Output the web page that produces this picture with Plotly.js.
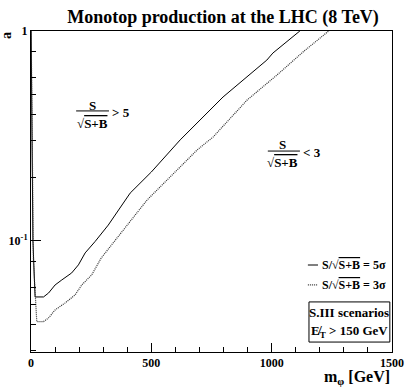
<!DOCTYPE html>
<html>
<head>
<meta charset="utf-8">
<script src="https://cdn.plot.ly/plotly-3.0.1.min.js"></script>
<style>
  html, body { margin: 0; padding: 0; background: #fff; }
  #plot { width: 407px; height: 387px; }
</style>
</head>
<body>
<div id="plot"></div>
<script>
// 5 sigma contour (solid)
const mass5 = [0, 8, 17, 52, 73, 100, 128, 169, 197, 225, 266, 321, 412, 500, 620, 700, 798, 980, 1005, 1117, 1140];
const coup5 = [1.2, 0.1, 0.0541, 0.0541, 0.0565, 0.0617, 0.0652, 0.0704, 0.0769, 0.0877, 0.0993, 0.119, 0.169, 0.213, 0.303, 0.373, 0.485, 0.727, 0.785, 1.0, 1.05];

// 3 sigma contour (dotted)
const mass3 = [0, 10, 24, 52, 73, 100, 142, 183, 211, 252, 292, 334, 363, 483, 690, 757, 898, 1022, 1130, 1233, 1255];
const coup3 = [1.2, 0.08, 0.0413, 0.0413, 0.043, 0.0469, 0.0507, 0.0553, 0.0617, 0.0689, 0.083, 0.0957, 0.105, 0.157, 0.271, 0.313, 0.469, 0.617, 0.794, 1.0, 1.04];

const xTicks = [0, 500, 1000, 1500];
const xMinor = [100, 200, 300, 400, 600, 700, 800, 900, 1100, 1200, 1300, 1400];
const yTicks = [0.1, 1];
const yTickText = ['10<sup>-1</sup>', '1'];
const yMinor = [0.03, 0.04, 0.05, 0.06, 0.08, 0.2, 0.3, 0.4, 0.5, 0.6, 0.8];

const serif = 'Liberation Serif, Times New Roman, serif';
const sqrtSB = '√<span style="text-decoration:overline">S+B</span>';

const traces = [
    {
        x: mass5, y: coup5, type: 'scatter', mode: 'lines',
        name: 'S/√S+B = 5σ',
        line: { color: '#000', width: 1 }
    },
    {
        x: mass3, y: coup3, type: 'scatter', mode: 'lines',
        name: 'S/√S+B = 3σ',
        line: { color: '#333', width: 1.2, dash: '1px,1px' }
    }
];

function txt(x, y, text, size, anchor) {
    return {
        xref: 'paper', yref: 'paper', x: x, y: y, text: text,
        showarrow: false, xanchor: anchor || 'center', yanchor: 'middle',
        font: { family: serif, size: size, color: '#000' }
    };
}

const annotations = [
    txt(0.169, 0.769, '<b>S</b>', 13),
    txt(0.169, 0.713, '<b>' + sqrtSB + '</b>', 13),
    txt(0.219, 0.745, '<b>&gt; 5</b>', 13, 'left'),
    txt(0.698, 0.645, '<b>S</b>', 13),
    txt(0.698, 0.589, '<b>' + sqrtSB + '</b>', 13),
    txt(0.748, 0.620, '<b>&lt; 3</b>', 13, 'left'),
    txt(0.80, 0.271, '<b>S/' + sqrtSB + ' = 5σ</b>', 12, 'left'),
    txt(0.80, 0.209, '<b>S/' + sqrtSB + ' = 3σ</b>', 12, 'left'),
    txt(0.882, 0.124, '<b>S.III scenarios</b>', 13),
    txt(0.882, 0.065, '<b>E\u0338<sub>T</sub> &gt; 150 GeV</b>', 13),
    txt(1.0, -0.08, '<b>m<sub>φ</sub> [GeV]</b>', 16, 'right'),
    Object.assign(txt(-0.066, 0.985, '<b>a</b>', 14), { textangle: -90 })
];

function hline(x0, x1, y, dash) {
    return {
        type: 'line', xref: 'paper', yref: 'paper', x0: x0, x1: x1, y0: y, y1: y,
        line: { color: '#000', width: 1, dash: dash || 'solid' }
    };
}

const shapes = [
    hline(0.125, 0.216, 0.751),
    hline(0.656, 0.745, 0.626),
    hline(0.767, 0.795, 0.271),
    hline(0.767, 0.795, 0.209, '1px,1px'),
    {
        type: 'rect', xref: 'paper', yref: 'paper',
        x0: 0.770, x1: 0.994, y0: 0.031, y1: 0.156,
        line: { color: '#000', width: 1 }, fillcolor: 'rgba(0,0,0,0)'
    }
];

const layout = {
    width: 407, height: 387,
    margin: { l: 31, r: 15, t: 31, b: 35 },
    paper_bgcolor: '#fff', plot_bgcolor: '#fff',
    showlegend: false,
    title: {
        text: '<b>Monotop production at the LHC (8 TeV)</b>',
        font: { family: serif, size: 18, color: '#000' },
        x: 0.548, xanchor: 'center', y: 0.957, yanchor: 'middle'
    },
    xaxis: {
        range: [0, 1500],
        showgrid: false, zeroline: false,
        showline: true, mirror: true, linecolor: '#000', linewidth: 1,
        tickmode: 'array', tickvals: xTicks, ticktext: xTicks.map(v => '<b>' + v + '</b>'),
        ticks: 'inside', ticklen: 9, tickcolor: '#000',
        minor: { tickmode: 'array', tickvals: xMinor, ticks: 'inside', ticklen: 5, tickcolor: '#000' },
        tickfont: { family: serif, size: 12, color: '#000' }
    },
    yaxis: {
        type: 'log',
        range: [-1.529, 0],
        showgrid: false, zeroline: false,
        showline: true, mirror: true, linecolor: '#000', linewidth: 1,
        tickmode: 'array', tickvals: yTicks, ticktext: yTickText.map(t => '<b>' + t + '</b>'),
        ticks: 'inside', ticklen: 10, tickcolor: '#000',
        minor: { tickmode: 'array', tickvals: yMinor, ticks: 'inside', ticklen: 5, tickcolor: '#000' },
        tickfont: { family: serif, size: 12, color: '#000' }
    },
    annotations: annotations,
    shapes: shapes
};

Plotly.newPlot('plot', traces, layout, { displayModeBar: false, staticPlot: true });
</script>
</body>
</html>
